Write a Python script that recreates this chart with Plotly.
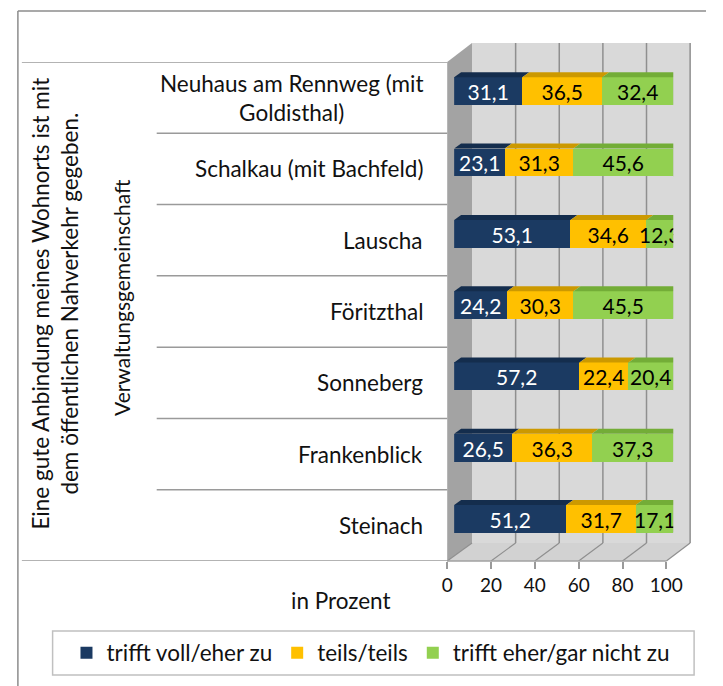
import plotly.graph_objects as go

# ---------------- data ----------------
categories = ["Neuhaus am Rennweg (mit Goldisthal)", "Schalkau (mit Bachfeld)", "Lauscha",
              "Föritzthal", "Sonneberg", "Frankenblick", "Steinach"]
category_labels = ["Neuhaus am Rennweg (mit<br>Goldisthal)", "Schalkau (mit Bachfeld)", "Lauscha",
                   "Föritzthal", "Sonneberg", "Frankenblick", "Steinach"]
series_names = ["trifft voll/eher zu", "teils/teils", "trifft eher/gar nicht zu"]
voll = [31.1, 23.1, 53.1, 24.2, 57.2, 26.5, 51.2]
teils = [36.5, 31.3, 34.6, 30.3, 22.4, 36.3, 31.7]
nicht = [32.4, 45.6, 12.3, 45.5, 20.4, 37.3, 17.1]
x_ticks = [0, 20, 40, 60, 80, 100]
axis_title = "in Prozent"
outer_title = "Eine gute Anbindung meines Wohnorts ist mit<br>dem öffentlichen Nahverkehr gegeben."
group_title = "Verwaltungsgemeinschaft"

# ---------------- styling ----------------
W, H = 723, 686
XW = 706          # effective horizontal extent of the rendered paper
FONT = "Lato"
TXT = "#111111"
FS = 22.5
colors = ["#1b3a62", "#ffc000", "#92d050"]
top_colors = ["#142d4d", "#cc9900", "#73ad37"]
label_colors = ["white", "black", "black"]
GRID = "#8f8f8f"


def X(px):
    return px / XW


def Y(py):
    return 1 - py / H


# pixel frame of the 3D box (window pixels)
FX0, FX1 = 445, 666          # front axis 0..100
BX0, BX1 = 470, 690          # back wall 0..100
TOP_FRONT, TOP_BACK = 62, 43
BOT_FRONT, BOT_BACK = 561, 543
BAR_X0, BAR_X1 = 452, 673    # bar front face 0..100

n = len(categories)
ypos = list(range(n))
BW = 0.39
BOFF = -0.285
DX = 7 / ((BAR_X1 - BAR_X0) / 100)
DY = 5 / ((BOT_FRONT - TOP_FRONT) / n)

fig = go.Figure()
vals = [voll, teils, nicht]
for k, (name, v) in enumerate(zip(series_names, vals)):
    fig.add_trace(go.Bar(
        y=ypos, x=v, name=name, orientation="h",
        width=BW, offset=BOFF,
        marker=dict(color=colors[k], line=dict(width=0)),
        texttemplate="%{x:.1f}", textposition="inside", insidetextanchor="middle",
        constraintext="none", textangle=0,
        insidetextfont=dict(family=FONT, size=21, color=label_colors[k]),
        xaxis="x", yaxis="y",
    ))

# helper invisible trace so the tick axis is drawn
fig.add_trace(go.Scatter(x=[x_ticks[0], x_ticks[-1]], y=[0, 0], mode="markers",
                         marker=dict(opacity=0), xaxis="x2", yaxis="y",
                         showlegend=False, hoverinfo="skip"))

shapes = []
# ---- 3D box: back wall, left wall, floor ----
shapes.append(dict(type="path", xref="paper", yref="paper", layer="below",
                   path=f"M{X(BX0)},{Y(TOP_BACK)} L{X(BX1)},{Y(TOP_BACK)} L{X(BX1)},{Y(BOT_BACK)} L{X(BX0)},{Y(BOT_BACK)} Z",
                   fillcolor="#d9d9d9", line=dict(width=0)))
shapes.append(dict(type="path", xref="paper", yref="paper", layer="below",
                   path=f"M{X(FX0)},{Y(TOP_FRONT)} L{X(BX0)},{Y(TOP_BACK)} L{X(BX0)},{Y(BOT_BACK)} L{X(FX0)},{Y(BOT_FRONT)} Z",
                   fillcolor="#a3a3a3", line=dict(width=0)))
shapes.append(dict(type="path", xref="paper", yref="paper", layer="below",
                   path=f"M{X(FX0)},{Y(BOT_FRONT)} L{X(BX0)},{Y(BOT_BACK)} L{X(BX1)},{Y(BOT_BACK)} L{X(FX1)},{Y(BOT_FRONT)} Z",
                   fillcolor="#d2d2d2", line=dict(width=0)))
for t in x_ticks:
    bx = BX0 + (BX1 - BX0) * t / 100
    fx = FX0 + (FX1 - FX0) * t / 100
    if t > 0:
        shapes.append(dict(type="line", xref="paper", yref="paper", layer="below",
                           x0=X(bx), x1=X(bx), y0=Y(TOP_BACK), y1=Y(BOT_BACK),
                           line=dict(color=GRID, width=1.5)))
    shapes.append(dict(type="line", xref="paper", yref="paper", layer="below",
                       x0=X(fx), x1=X(bx), y0=Y(BOT_FRONT), y1=Y(BOT_BACK),
                       line=dict(color=GRID, width=1.2)))
shapes.append(dict(type="line", xref="paper", yref="paper", layer="below",
                   x0=X(FX0), x1=X(FX1), y0=Y(BOT_FRONT), y1=Y(BOT_FRONT),
                   line=dict(color="#a0a0a0", width=1.5)))

# ---- 3D top / side faces of the bars (from the data) ----
for i in ypos:
    cum = 0
    yt = i + BOFF
    yb = i + BOFF + BW
    for k, v in enumerate(vals):
        x0, x1 = cum, cum + v[i]
        cum = x1
        shapes.append(dict(type="path", xref="x", yref="y", layer="above",
                           path=f"M{x0},{yt} L{x1},{yt} L{x1 + DX},{yt - DY} L{x0 + DX},{yt - DY} Z",
                           fillcolor=top_colors[k], line=dict(width=0)))
        if k == len(vals) - 1:
            shapes.append(dict(type="path", xref="x", yref="y", layer="above",
                               path=f"M{x1},{yt} L{x1 + DX},{yt - DY} L{x1 + DX},{yb - DY} L{x1},{yb} Z",
                               fillcolor=top_colors[k], line=dict(width=0)))

# ---- category table lines ----
LINE_C = "#9a9a9a"
shapes.append(dict(type="line", xref="paper", yref="y", x0=X(16), x1=X(FX0), y0=-0.5, y1=-0.5,
                   line=dict(color=LINE_C, width=1.5)))
shapes.append(dict(type="line", xref="paper", yref="y", x0=X(16), x1=X(FX0), y0=n - 0.5, y1=n - 0.5,
                   line=dict(color=LINE_C, width=1.5)))
for i in range(n - 1):
    shapes.append(dict(type="line", xref="paper", yref="y", x0=X(152), x1=X(FX0), y0=i + 0.5, y1=i + 0.5,
                       line=dict(color=LINE_C, width=1.5)))

# ---- chart border (only its top and left edges are in view) and legend box ----
shapes.append(dict(type="line", xref="paper", yref="paper", x0=X(12), x1=1, y0=Y(11), y1=Y(11),
                   line=dict(color="#8c8c8c", width=1.5)))
shapes.append(dict(type="line", xref="paper", yref="paper", x0=X(12), x1=X(12), y0=Y(11), y1=0,
                   line=dict(color="#8c8c8c", width=1.5)))
shapes.append(dict(type="rect", xref="paper", yref="paper", x0=X(47), x1=X(694), y0=Y(631), y1=Y(675),
                   line=dict(color="#c0c0c0", width=1.5), fillcolor="rgba(0,0,0,0)"))

annotations = []
for i, lab in zip(ypos, category_labels):
    annotations.append(dict(x=X(423), y=i, xref="paper", yref="y", text=lab, showarrow=False,
                            xanchor="right", yanchor="middle", align="center",
                            font=dict(family=FONT, size=FS, color=TXT)))
annotations.append(dict(x=X(49), y=Y(304), xref="paper", yref="paper", text=outer_title, textangle=-90,
                        showarrow=False, xanchor="center", yanchor="middle", align="center",
                        font=dict(family=FONT, size=FS, color=TXT)))
annotations.append(dict(x=X(116), y=Y(298), xref="paper", yref="paper", text=group_title, textangle=-90,
                        showarrow=False, xanchor="center", yanchor="middle", align="center",
                        font=dict(family=FONT, size=21, color=TXT)))
annotations.append(dict(x=X(338), y=Y(600), xref="paper", yref="paper", text=axis_title,
                        showarrow=False, xanchor="center", yanchor="middle",
                        font=dict(family=FONT, size=FS, color=TXT)))

fig.update_layout(
    width=W, height=H, autosize=False,
    margin=dict(l=0, r=0, t=0, b=0),
    paper_bgcolor="white", plot_bgcolor="rgba(0,0,0,0)",
    barmode="stack", bargap=0,
    separators=",.",
    font=dict(family=FONT, size=18, color=TXT),
    showlegend=True,
    legend=dict(orientation="h", x=X(61), xanchor="left", y=Y(653), yanchor="middle",
                bgcolor="rgba(0,0,0,0)", borderwidth=0, traceorder="normal",
                font=dict(family=FONT, size=FS, color=TXT)),
    xaxis=dict(domain=[X(BAR_X0), X(BAR_X1)], range=[0, 100], showticklabels=False, showgrid=False,
               zeroline=False, showline=False, ticks="", fixedrange=True),
    xaxis2=dict(domain=[X(FX0), X(FX1)], range=[0, 100], anchor="free", position=Y(BOT_FRONT),
                tickvals=x_ticks, ticktext=[str(t) for t in x_ticks], ticks="outside", ticklen=7,
                tickcolor="#9a9a9a", tickwidth=1.5, showgrid=False, zeroline=False, showline=False,
                tickfont=dict(family=FONT, size=19, color=TXT)),
    yaxis=dict(domain=[Y(BOT_FRONT), Y(TOP_FRONT)], range=[n - 0.5, -0.5], showticklabels=False,
               showgrid=False, zeroline=False, showline=False, ticks=""),
    shapes=shapes, annotations=annotations,
)

page_css = ("document.documentElement.style.overflow='hidden';"
            "document.body.style.overflow='hidden';"
            "document.body.style.margin='0px';")
fig.write_html("out.html", config={"displayModeBar": False, "responsive": False}, post_script=page_css)
